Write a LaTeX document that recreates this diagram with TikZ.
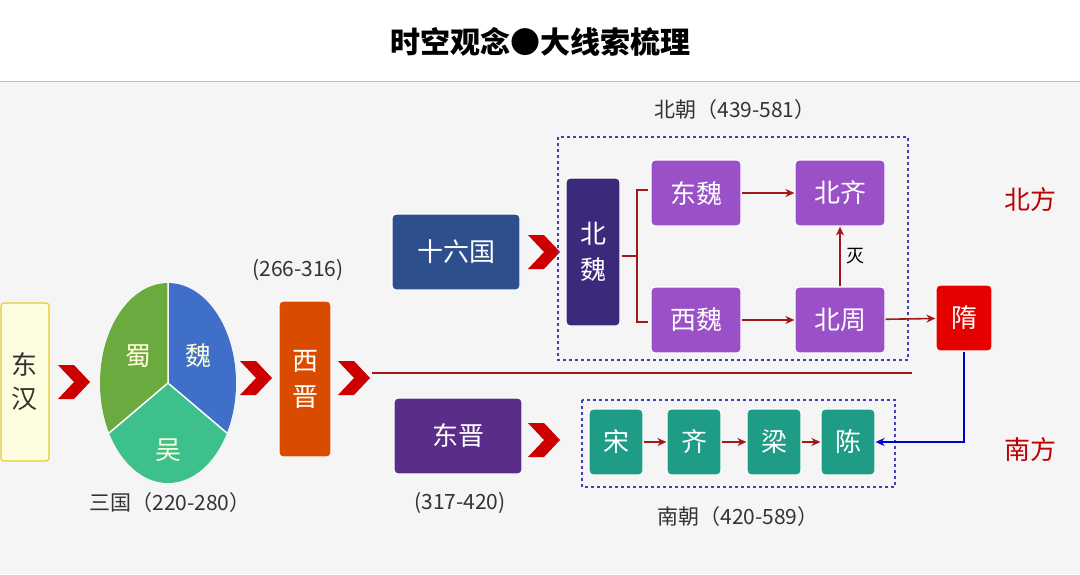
\documentclass[tikz,border=0pt]{standalone}
\usepackage{fontspec}
\newfontfamily\cjk{Noto Sans CJK SC}
\usetikzlibrary{arrows.meta}
\definecolor{cpurple}{HTML}{9A50C6}
\definecolor{cteal}{HTML}{1F9C86}
\definecolor{cdred}{HTML}{A01818}
\definecolor{cslg}{HTML}{2D4F8E}
\definecolor{cdj}{HTML}{5A2E88}
\definecolor{cbw}{HTML}{3B2A7C}
\begin{document}
\begin{tikzpicture}[x=1pt,y=-1pt,
 box/.style={draw=white,line width=1.2pt,rounded corners=4pt,text=white,font=\cjk\fontsize{26}{30}\selectfont,inner sep=0pt},
 arr/.style={-{Stealth[length=9pt,width=8pt]},cdred,line width=1.6pt},
 lab/.style={font=\cjk\fontsize{21}{24}\selectfont,text=black!80},
 dbox/.style={draw=blue!50!gray,dashed,line width=1.1pt}]
\useasboundingbox (0,0) rectangle (1080,574);
\fill[white] (0,0) rectangle (1080,574);
\fill[black!4] (0,82) rectangle (1080,574);
\draw[black!25,line width=1pt] (0,81) -- (1080,81);
\node[font=\cjk\bfseries\fontsize{30}{34}\selectfont] (title) at (540,42) {时空观念●大线索梳理};
% east han
\node[draw=yellow!60!brown,fill=yellow!12,line width=1.2pt,rounded corners=3pt,minimum width=48pt,minimum height=158pt,font=\cjk\fontsize{26}{34}\selectfont,align=center,text=black!80] (dh) at (25,382) {东\\汉};
% chevrons
\newcommand{\mychev}[2]{\fill[red!80!black] (#1,#2-17) -- ++(16,0) -- ++(16,17) -- ++(-16,17) -- ++(-16,0) -- ++(16,-17) -- cycle;}
\mychev{58}{382}
\mychev{240}{378}
\mychev{338}{378}
\mychev{528}{252}
\mychev{528}{440}
% ellipse pie
\definecolor{pg}{HTML}{6AAA3E}\definecolor{pb}{HTML}{3F6FC8}\definecolor{pt}{HTML}{3EC08C}
\begin{scope}[shift={(168,383)},yscale=1.47]
\coordinate (c) at (0,0);
\fill[pg] (c) -- (0,-68) arc[start angle=-90,end angle=-210,radius=68] -- cycle;
\fill[pb] (c) -- (0,-68) arc[start angle=-90,end angle=30,radius=68] -- cycle;
\fill[pt] (c) -- (30:68) arc[start angle=30,end angle=150,radius=68] -- cycle;
\draw[white,line width=1.5pt] (c) -- (0,-68) (c) -- (30:68) (c) -- (150:68);
\end{scope}
\node[font=\cjk\fontsize{26}{28}\selectfont,text=yellow!15] (shu) at (138,356) {蜀};
\node[font=\cjk\fontsize{26}{28}\selectfont,text=yellow!15] (wei) at (198,356) {魏};
\node[font=\cjk\fontsize{26}{28}\selectfont,text=yellow!15] (wu) at (168,450) {吴};
\node[lab] (sg) at (170,503) {三国（220-280）};
% xi jin
\node[lab] (xjd) at (298,270) {(266-316)};
\node[box,fill=orange!70!red!85!black,minimum width=52pt,minimum height=156pt,align=center,font=\cjk\fontsize{26}{36}\selectfont] (xj) at (305,379) {西\\晋};
\coordinate (l1) at (372,373); \coordinate (l2) at (912,373);
\draw[cdred,line width=2.5pt] (l1) -- (l2);
% 16 states
\node[box,fill=cslg,minimum width=128pt,minimum height=76pt] (slg) at (456,252) {十六国};
\node[box,fill=cdj,minimum width=128pt,minimum height=76pt] (dj) at (458,436) {东晋};
\node[lab] (djd) at (460,503) {(317-420)};
% northern
\draw[dbox] (558,137) rectangle (908,360);
\node[lab] (bc) at (735,110) {北朝（439-581）};
\node[box,fill=cbw,minimum width=54pt,minimum height=148pt,align=center,font=\cjk\fontsize{26}{36}\selectfont] (bw) at (593,252) {北\\魏};
\coordinate (b1) at (648,190); \coordinate (b2) at (648,322);
\draw[cdred,line width=1.5pt] (b1) -- (637,190) -- (637,322) -- (b2) (622,256) -- (637,256);
\node[box,fill=cpurple,minimum width=90pt,minimum height=66pt] (dw) at (696,193) {东魏};
\node[box,fill=cpurple,minimum width=90pt,minimum height=66pt] (bq) at (840,193) {北齐};
\node[box,fill=cpurple,minimum width=90pt,minimum height=66pt] (xw) at (696,320) {西魏};
\node[box,fill=cpurple,minimum width=90pt,minimum height=66pt] (bz) at (840,320) {北周};
\draw[arr] (dw) -- (bq);
\draw[arr] (xw) -- (bz);
\draw[arr] (bz) -- (bq) node[midway,right,font=\cjk\fontsize{18}{20}\selectfont,text=black,xshift=2pt] {灭};
\node[box,fill=red!90!black,minimum width=56pt,minimum height=66pt] (sui) at (964,318) {隋};
\draw[arr] (bz) -- (sui);
\node[font=\cjk\fontsize{26}{30}\selectfont,text=red!75!black] (bf) at (1030,200) {北方};
\node[font=\cjk\fontsize{26}{30}\selectfont,text=red!75!black] (nf) at (1030,450) {南方};
% southern
\draw[dbox] (582,400) rectangle (895,487);
\node[lab] (nc) at (738,517) {南朝（420-589）};
\node[box,fill=cteal,minimum width=54pt,minimum height=66pt] (song) at (616,442) {宋};
\node[box,fill=cteal,minimum width=54pt,minimum height=66pt] (qi) at (694,442) {齐};
\node[box,fill=cteal,minimum width=54pt,minimum height=66pt] (liang) at (774,442) {梁};
\node[box,fill=cteal,minimum width=54pt,minimum height=66pt] (chen) at (848,442) {陈};
\draw[arr,line width=1.3pt] (song) -- (qi);
\draw[arr,line width=1.3pt] (qi) -- (liang);
\draw[arr,line width=1.3pt] (liang) -- (chen);
\draw[-{Stealth[length=9pt,width=8pt]},blue!80!black,line width=1.6pt] (sui.south) |- (chen.east);
\end{tikzpicture}
\end{document}
